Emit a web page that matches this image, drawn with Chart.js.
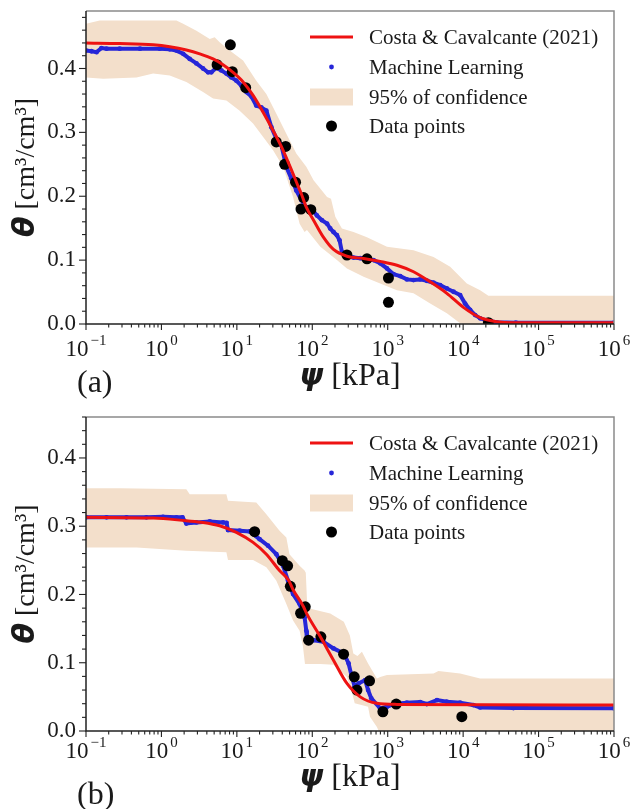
<!DOCTYPE html>
<html>
<head>
<meta charset="utf-8">
<script src="https://cdn.jsdelivr.net/npm/chart.js@4.4.1/dist/chart.umd.min.js"></script>
<style>
  html, body { margin: 0; padding: 0; background: #fff; }
  #wrap { position: relative; width: 631px; height: 809px; overflow: hidden; }
  canvas { position: absolute; left: 0; }
</style>
</head>
<body>
<div id="wrap">
  <canvas id="chartA" width="631" height="400" style="top:0px"></canvas>
  <canvas id="chartB" width="631" height="409" style="top:400px"></canvas>
</div>
<script>
// ---------- panel (a) : [psi kPa, theta] ----------
const modelA = [[0.1,0.440],[0.28,0.439],[0.78,0.437],[1.29,0.434],[2.14,0.429],[3.22,0.423],[4.84,0.415],[6.56,0.406],[8.9,0.394],[12.1,0.379],[16.4,0.358],[22.2,0.332],[30.2,0.303],[41,0.272],[55.6,0.235],[62.7,0.220],[71.5,0.204],[83.3,0.183],[104,0.1625],[141,0.1355],[191,0.1167],[288,0.106],[479,0.1026],[795,0.098],[1324,0.092],[2198,0.0818],[3655,0.066],[6080,0.048],[10090,0.026],[16800,0.0099],[27900,0.0036],[46400,0.002],[1e6,0.002]];

const mlA = [[0.1,0.428],[0.118,0.427],[0.138,0.4255],[0.16,0.432],[0.187,0.431],[0.28,0.431],[0.52,0.431],[0.95,0.431],[1.29,0.430],[1.58,0.428],[1.94,0.423],[2.37,0.415],[2.91,0.408],[3.56,0.400],[4.15,0.394],[4.59,0.394],[5.35,0.401],[6.23,0.397],[7.26,0.392],[8.45,0.386],[9.85,0.381],[11.5,0.373],[13.4,0.363],[15.6,0.356],[18.1,0.342],[21.1,0.339],[24.6,0.334],[28.7,0.308],[33.4,0.290],[38.9,0.280],[45.3,0.246],[52.7,0.228],[61.4,0.209],[71.5,0.194],[83.3,0.183],[94,0.183],[115,0.170],[134,0.1625],[157,0.157],[173,0.1495],[191,0.144],[212,0.139],[230,0.131],[247,0.113],[288,0.106],[352,0.104],[432,0.103],[530,0.1016],[649,0.100],[795,0.095],[977,0.087],[1194,0.078],[1465,0.075],[1795,0.0698],[2198,0.0688],[2693,0.0698],[3300,0.0677],[4046,0.0646],[4955,0.061],[6080,0.0557],[7450,0.0505],[9120,0.0453],[10620,0.032],[12390,0.0219],[14420,0.014],[16800,0.0089],[20600,0.0052],[27900,0.0026],[50000,0.002],[1e6,0.002]];

const pointsA = [[5.47,0.406],[8.2,0.437],[8.7,0.395],[13.1,0.370],[33.3,0.285],[43,0.250],[44.3,0.278],[60,0.222],[70.8,0.180],[76.8,0.198],[95.6,0.179],[288,0.108],[531,0.102],[1023,0.072],[1023,0.034],[21600,0.002]];

const upperA = [[0.1,0.470],[0.152,0.475],[1.58,0.475],[1.94,0.470],[2.91,0.459],[4.37,0.446],[5.08,0.449],[5.92,0.441],[8.04,0.428],[12.1,0.4125],[18.1,0.381],[24.6,0.360],[33.4,0.329],[45.3,0.298],[61.4,0.267],[83.3,0.246],[104,0.225],[157,0.199],[177,0.196],[202,0.168],[247,0.1495],[352,0.144],[530,0.136],[977,0.121],[2198,0.1156],[4046,0.105],[6730,0.0896],[11190,0.0635],[16800,0.053],[21600,0.0443],[1e6,0.0443]];

const lowerA = [[0.1,0.386],[0.169,0.384],[0.467,0.386],[0.776,0.392],[1.29,0.389],[2.14,0.379],[3.56,0.363],[4.84,0.353],[7.26,0.350],[10.9,0.334],[16.4,0.314],[22.2,0.293],[30.2,0.272],[41,0.246],[55.6,0.199],[67.9,0.157],[79,0.144],[85,0.147],[128,0.121],[212,0.100],[288,0.087],[479,0.074],[795,0.0635],[1324,0.053],[2198,0.048],[3655,0.032],[6080,0.0167],[9120,0.001],[10000,0],[1e6,0]];

// ---------- panel (b) ----------
const modelB = [[0.1,0.313],[0.78,0.312],[2.14,0.308],[3.56,0.3056],[5.92,0.3007],[9.85,0.291],[16.4,0.2763],[24.6,0.259],[36.8,0.235],[48.5,0.2208],[55.6,0.207],[76.8,0.1817],[83.3,0.173],[128,0.138],[191,0.1038],[288,0.0697],[432,0.050],[719,0.0405],[1324,0.039],[1e6,0.038]];

const mlB = [[0.1,0.313],[0.187,0.313],[0.344,0.313],[0.632,0.313],[1.05,0.3138],[1.58,0.313],[1.9,0.313],[2.14,0.304],[2.91,0.3056],[4.37,0.307],[6.56,0.3056],[7.3,0.305],[7.63,0.2943],[10.9,0.2934],[14.8,0.2924],[20,0.281],[25.9,0.2715],[33.4,0.259],[41,0.242],[47.7,0.220],[55.6,0.2007],[67.9,0.186],[79,0.1667],[83.3,0.147],[85,0.133],[104,0.133],[141,0.1306],[191,0.121],[262,0.1136],[303,0.099],[330,0.0819],[365,0.0648],[411,0.0697],[503,0.0746],[549,0.060],[606,0.0478],[795,0.0332],[977,0.0355],[1194,0.0395],[1795,0.0414],[2693,0.0424],[3300,0.0395],[4500,0.0453],[6080,0.0429],[9120,0.0414],[13600,0.038],[16800,0.0346],[46400,0.0336],[1e6,0.0333]];

const pointsB = [[17.2,0.292],[40.1,0.2495],[47.1,0.242],[51.2,0.212],[70,0.1725],[80.7,0.182],[89.3,0.133],[130,0.138],[260,0.1126],[360,0.0794],[391,0.060],[574,0.0735],[863,0.0282],[1297,0.0395],[9610,0.021]];

const upperB = [[0.1,0.3558],[0.28,0.3558],[2.14,0.3543],[2.37,0.347],[7.26,0.347],[7.63,0.3373],[18.1,0.3348],[24.6,0.3177],[36.8,0.2934],[45.3,0.2836],[49.8,0.259],[67.9,0.242],[79,0.235],[82,0.232],[86,0.180],[104,0.178],[173,0.172],[262,0.160],[315,0.140],[350,0.1136],[397,0.110],[455,0.116],[549,0.099],[719,0.077],[795,0.079],[977,0.0819],[4046,0.0843],[4700,0.088],[9120,0.0843],[16800,0.077],[1e6,0.077]];

const lowerB = [[0.1,0.269],[0.47,0.269],[2.14,0.264],[7.26,0.2617],[7.63,0.2505],[16.4,0.2505],[24.6,0.2398],[33.4,0.220],[45.3,0.186],[55.6,0.162],[67.9,0.147],[75,0.125],[80,0.098],[128,0.098],[191,0.097],[288,0.079],[330,0.060],[365,0.0405],[549,0.0355],[582,0.021],[719,0.006],[760,0],[1e6,0]];

// ---------- axes / legend text ----------
const xTickValues = [0.1, 1, 10, 100, 1000, 10000, 100000, 1000000];
const xTickPowers = ['\u22121', '0', '1', '2', '3', '4', '5', '6'];
const yTickValues = [0, 0.1, 0.2, 0.3, 0.4];
const legendLabels = ['Costa & Cavalcante (2021)', 'Machine Learning', '95% of confidence', 'Data points'];

const SERIF = "'Liberation Serif', 'Times New Roman', 'DejaVu Serif', serif";
const SANS = "'DejaVu Sans', sans-serif";
const RED = '#ee1212';
const BLUE = '#2626d8';
const BAND = '#f3dfcb';
const INK = '#1a1a1a';

const toXY = arr => arr.map(([x, y]) => ({ x, y }));

// draw pieces of text in different fonts on one baseline, centred on cx
function drawMixed(ctx, parts, cx, y) {
    let total = 0;
    parts.forEach(p => { ctx.font = p[1]; total += ctx.measureText(p[0]).width; });
    let x = cx - total / 2;
    ctx.textAlign = 'left';
    parts.forEach(p => {
        ctx.font = p[1];
        ctx.fillText(p[0], x, y);
        x += ctx.measureText(p[0]).width;
    });
}

function decor(L) {
    return {
        id: 'decor',
        afterDraw(chart) {
            const ctx = chart.ctx;
            const ca = chart.chartArea;
            const xs = chart.scales.x, ys = chart.scales.y;
            ctx.save();

            // frame
            ctx.lineWidth = 1.5;
            ctx.strokeStyle = '#8a8a8a';
            ctx.beginPath();
            ctx.moveTo(ca.left, ca.top); ctx.lineTo(ca.right, ca.top); ctx.lineTo(ca.right, ca.bottom);
            ctx.stroke();
            ctx.strokeStyle = '#222';
            ctx.beginPath();
            ctx.moveTo(ca.left, ca.top); ctx.lineTo(ca.left, ca.bottom); ctx.lineTo(ca.right, ca.bottom);
            ctx.stroke();

            // x ticks (major + log minors)
            ctx.lineWidth = 1.1;
            for (let e = -1; e <= 6; e++) {
                const px = xs.getPixelForValue(Math.pow(10, e));
                ctx.beginPath(); ctx.moveTo(px, ca.bottom); ctx.lineTo(px, ca.bottom + 6); ctx.stroke();
                if (e === 6) break;
                for (let m = 2; m <= 9; m++) {
                    const pm = xs.getPixelForValue(m * Math.pow(10, e));
                    ctx.beginPath(); ctx.moveTo(pm, ca.bottom); ctx.lineTo(pm, ca.bottom + 3.5); ctx.stroke();
                }
            }
            // y ticks every 0.02, longer at labelled values
            for (let k = 0; k * 0.02 <= L.yMax + 1e-9; k++) {
                const py = ys.getPixelForValue(k * 0.02);
                const len = k % 5 === 0 ? 7 : 4;
                ctx.beginPath(); ctx.moveTo(ca.left, py); ctx.lineTo(ca.left - len, py); ctx.stroke();
            }

            // x tick labels: 10 with raised exponent
            ctx.fillStyle = INK;
            ctx.textBaseline = 'alphabetic';
            ctx.textAlign = 'left';
            xTickValues.forEach((v, i) => {
                const px = xs.getPixelForValue(v);
                ctx.font = `23px ${SERIF}`;
                const wb = ctx.measureText('10').width;
                ctx.font = `15px ${SERIF}`;
                const ws = ctx.measureText(xTickPowers[i]).width;
                const x0 = px - (wb + 2 + ws) / 2;
                ctx.font = `23px ${SERIF}`;
                ctx.fillText('10', x0, ca.bottom + L.tickDy);
                ctx.font = `15px ${SERIF}`;
                ctx.fillText(xTickPowers[i], x0 + wb + 2, ca.bottom + L.tickDy - 11);
            });

            // axis titles
            const cx = (ca.left + ca.right) / 2;
            drawMixed(ctx, [['\u03c8', `bold italic 30px ${SANS}`], [' [kPa]', `32px ${SERIF}`]], cx, ca.bottom + L.titleDy);

            ctx.save();
            ctx.translate(34, (ca.top + ca.bottom) / 2);
            ctx.rotate(-Math.PI / 2);
            drawMixed(ctx, [['\u03b8', `bold italic 30px ${SANS}`], [' [cm\u00b3/cm\u00b3]', `28px ${SERIF}`]], 0, 0);
            ctx.restore();

            // panel tag
            ctx.font = `32px ${SERIF}`;
            ctx.textAlign = 'left';
            ctx.fillText(L.tag, 77, L.tagY);

            // legend
            const rows = [26, 56, 86, 115].map(r => ca.top + r);
            const lx0 = 310, lx1 = 353, mx = 331.5, tx = 369;
            ctx.strokeStyle = RED; ctx.lineWidth = 3;
            ctx.beginPath(); ctx.moveTo(lx0, rows[0]); ctx.lineTo(lx1, rows[0]); ctx.stroke();
            ctx.fillStyle = BLUE;
            ctx.beginPath(); ctx.arc(mx, rows[1], 2.4, 0, Math.PI * 2); ctx.fill();
            ctx.fillStyle = BAND;
            ctx.fillRect(lx0, rows[2] - 8.5, lx1 - lx0, 17);
            ctx.fillStyle = '#000';
            ctx.beginPath(); ctx.arc(mx, rows[3], 5.5, 0, Math.PI * 2); ctx.fill();
            ctx.fillStyle = INK;
            ctx.font = `21px ${SERIF}`;
            ctx.textBaseline = 'middle';
            legendLabels.forEach((t, i) => ctx.fillText(t, tx, rows[i] + 1));

            ctx.restore();
        }
    };
}

function buildChart(canvasId, s, L) {
    return new Chart(document.getElementById(canvasId), {
        type: 'line',
        data: {
            datasets: [
                { label: 'lower bound', data: toXY(s.lower), borderWidth: 0, borderColor: 'transparent', pointRadius: 0, fill: false, order: 4 },
                { label: legendLabels[2], data: toXY(s.upper), borderWidth: 0, borderColor: 'transparent', pointRadius: 0, backgroundColor: BAND, fill: '-1', order: 4 },
                { label: legendLabels[1], data: toXY(s.ml), borderColor: BLUE, borderWidth: 4, pointRadius: 2.4, pointBackgroundColor: BLUE, pointBorderWidth: 0, order: 2 },
                { label: legendLabels[3], data: toXY(s.points), showLine: false, pointRadius: 5.5, pointBackgroundColor: '#000', pointBorderWidth: 0, order: 1 },
                { label: legendLabels[0], data: toXY(s.model), borderColor: RED, borderWidth: 3, pointRadius: 0, cubicInterpolationMode: 'monotone', order: 0 }
            ]
        },
        options: {
            responsive: false,
            animation: false,
            events: [],
            layout: { padding: { left: 0, right: 17, top: L.plotTop, bottom: 0 } },
            plugins: { legend: { display: false }, tooltip: { enabled: false } },
            scales: {
                x: {
                    type: 'logarithmic', min: 0.1, max: 1e6,
                    border: { display: false },
                    grid: { display: false, drawTicks: false },
                    ticks: { display: false },
                    afterFit: sc => { sc.height = L.height - L.plotBottom; sc.paddingLeft = 0; sc.paddingRight = 0; }
                },
                y: {
                    type: 'linear', min: 0, max: L.yMax,
                    border: { display: false },
                    grid: { display: false, drawTicks: false },
                    ticks: { padding: 10, color: INK, font: { family: SERIF, size: 23 }, callback: v => v.toFixed(1) },
                    afterBuildTicks: sc => { sc.ticks = yTickValues.map(v => ({ value: v })); },
                    afterFit: sc => { sc.width = 86; sc.paddingTop = 0; sc.paddingBottom = 0; }
                }
            }
        },
        plugins: [decor(L)]
    });
}

buildChart('chartA', { model: modelA, ml: mlA, points: pointsA, upper: upperA, lower: lowerA },
    { plotTop: 11, plotBottom: 324, height: 400, yMax: 0.49, tickDy: 32, titleDy: 61, tag: '(a)', tagY: 392 });
buildChart('chartB', { model: modelB, ml: mlB, points: pointsB, upper: upperB, lower: lowerB },
    { plotTop: 17, plotBottom: 331, height: 409, yMax: 0.46, tickDy: 27, titleDy: 55, tag: '(b)', tagY: 404 });
</script>
</body>
</html>
